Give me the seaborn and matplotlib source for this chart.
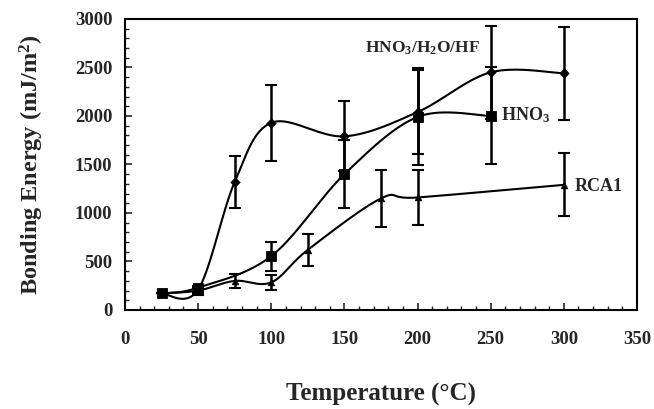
import numpy as np
import pandas as pd
import matplotlib
matplotlib.use("Agg")
import matplotlib.pyplot as plt
import seaborn as sns
from matplotlib.ticker import MultipleLocator

# ---- data ----
temp_hf = [25, 50, 75, 100, 150, 200, 250, 300]
energy_hf = [170, 210, 1320, 1930, 1790, 2040, 2450, 2440]
err_hf = [0, 40, 265, 390, 360, 430, 480, 480]

temp_hno3 = [25, 50, 100, 150, 200, 250]
energy_hno3 = [170, 230, 555, 1400, 1990, 2000]
err_hno3 = [0, 0, 150, 350, 500, 500]

temp_rca = [25, 50, 75, 100, 125, 175, 200, 300]
energy_rca = [170, 200, 300, 285, 620, 1150, 1160, 1290]
err_rca = [0, 50, 70, 80, 165, 290, 280, 325]

series_names = ["HNO$_3$/H$_2$O/HF", "HNO$_3$", "RCA1"]

sns.set_style("ticks")
plt.rcParams["font.family"] = ["Liberation Serif", "DejaVu Serif"]
plt.rcParams["font.weight"] = "bold"
plt.rcParams["mathtext.fontset"] = "custom"
plt.rcParams["mathtext.rm"] = "Liberation Serif:bold"
plt.rcParams["mathtext.it"] = "Liberation Serif:bold"
plt.rcParams["mathtext.bf"] = "Liberation Serif:bold"
plt.rcParams["mathtext.default"] = "rm"

fig = plt.figure(figsize=(6.54, 4.09), dpi=100)
ax = fig.add_axes([0.1911, 0.2421, 0.7829, 0.7115])
XMAX, YMAX = 350, 3000
W_PX, H_PX = 512, 291


def smooth(xs, ys, n=40):
    # Excel-style smoothed line (Bezier through points) computed in screen space
    px = np.asarray(xs, float) / XMAX * W_PX
    py = np.asarray(ys, float) / YMAX * H_PX
    P = np.column_stack([px, py])
    out = []
    for i in range(len(P) - 1):
        p0 = P[i - 1] if i > 0 else P[i]
        p1, p2 = P[i], P[i + 1]
        p3 = P[i + 2] if i + 2 < len(P) else P[i + 1]
        c1 = p1 + (p2 - p0) / 6
        c2 = p2 - (p3 - p1) / 6
        t = np.linspace(0, 1, n)[:, None]
        seg = ((1 - t) ** 3) * p1 + 3 * ((1 - t) ** 2) * t * c1 + 3 * (1 - t) * t ** 2 * c2 + t ** 3 * p2
        out.append(seg if i == 0 else seg[1:])
    out = np.vstack(out)
    return out[:, 0] / W_PX * XMAX, out[:, 1] / H_PX * YMAX


groups = [
    (temp_hf, energy_hf, err_hf, "D", 24),
    (temp_hno3, energy_hno3, err_hno3, "s", 55),
    (temp_rca, energy_rca, err_rca, "^", 24),
]

for name, (tx, ey, er, mk, ms) in zip(series_names, groups):
    sx, sy = smooth(tx, ey)
    curve = pd.DataFrame({"x": sx, "y": sy})
    sns.lineplot(data=curve, x="x", y="y", sort=False, color="black", lw=1.5, ax=ax, estimator=None)
    pts = pd.DataFrame({"x": tx, "y": ey})
    sns.scatterplot(data=pts, x="x", y="y", marker=mk, s=ms, color="black", edgecolor="black", ax=ax, zorder=5)
    ax.errorbar(tx, ey, yerr=er, fmt="none", ecolor="black", elinewidth=1.8, capsize=4, capthick=1.5)

ax.set_xlim(0, XMAX)
ax.set_ylim(0, YMAX)
ax.xaxis.set_major_locator(MultipleLocator(50))
ax.xaxis.set_minor_locator(MultipleLocator(10))
ax.yaxis.set_major_locator(MultipleLocator(500))
ax.yaxis.set_minor_locator(MultipleLocator(100))
ax.tick_params(which="major", direction="in", length=5, width=1.2, labelsize=13.5, top=False, right=False)
ax.tick_params(axis="x", which="major", pad=15)
ax.tick_params(axis="y", which="major", pad=9)
ax.tick_params(which="minor", direction="in", length=3, width=1.0, top=False, right=False)
for lab in ax.get_xticklabels() + ax.get_yticklabels():
    lab.set_fontweight("bold")
for sp in ax.spines.values():
    sp.set_linewidth(1.5)
    sp.set_color("black")

ax.set_xlabel("Temperature (°C)", fontsize=18, fontweight="bold")
ax.xaxis.set_label_coords(0.5, -0.25)
ax.set_ylabel("Bonding Energy (mJ/m$^2$)", fontsize=17.5, fontweight="bold")
ax.yaxis.set_label_coords(-0.155, 0.5)

ax.text(164, 2700, series_names[0], fontsize=12.5, fontweight="bold", va="center", ha="left")
ax.text(257, 2010, series_names[1], fontsize=13, fontweight="bold", va="center", ha="left")
ax.text(307.5, 1268, series_names[2], fontsize=13, fontweight="bold", va="center", ha="left")

fig.savefig("out.png", dpi=100)
